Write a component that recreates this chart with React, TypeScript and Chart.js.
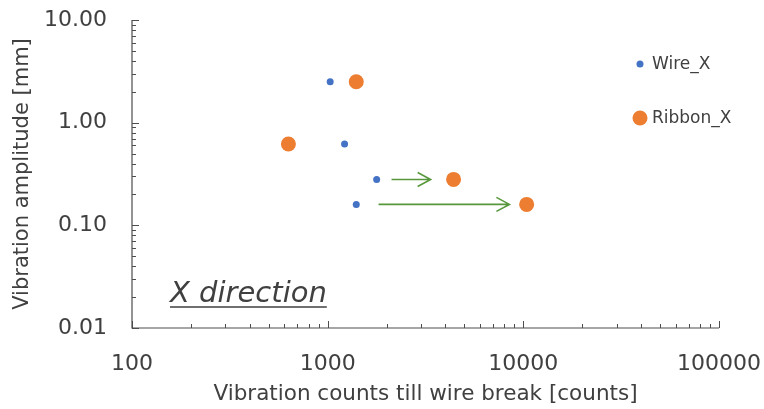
import React, { useEffect, useRef } from 'react';
import { Chart, registerables } from 'chart.js';
Chart.register(...registerables);

// ---- data ----
const wireCounts = [1030, 1220, 1780, 1400];
const wireAmplitude = [2.5, 0.62, 0.28, 0.16];
const ribbonCounts = [1400, 630, 4400, 10400];
const ribbonAmplitude = [2.5, 0.62, 0.28, 0.16];
const arrowFromCounts = [2120, 1820];
const arrowToCounts = [3360, 8490];
const arrowAmplitude = [0.28, 0.16];
const xDecades = [100, 1000, 10000, 100000];
const xTickLabels = ['100', '1000', '10000', '100000'];
const yDecades = [0.01, 0.1, 1, 10];
const yTickLabels = ['0.01', '0.10', '1.00', '10.00'];
const seriesNames = ['Wire_X', 'Ribbon_X'];
const annotationText = 'X direction';

const TEXT = '#404040';
const AXIS = '#4d4d4d';
const BLUE = '#4472C4';
const ORANGE = '#ED7D31';
const GREEN = '#58983C';
const FONT = "'DejaVu Sans', sans-serif";

const zeroPadding = (s: any) => {
  s.paddingTop = 0;
  s.paddingBottom = 0;
  s.paddingLeft = 0;
  s.paddingRight = 0;
};

const decorPlugin = {
  id: 'decor',
  afterDatasetsDraw(chart: any) {
    const ctx = chart.ctx;
    const xs = chart.scales.x;
    const ys = chart.scales.y;
    const area = chart.chartArea;
    ctx.save();
    // axis lines
    ctx.strokeStyle = AXIS;
    ctx.lineWidth = 1.2;
    ctx.beginPath();
    ctx.moveTo(area.left, area.top);
    ctx.lineTo(area.left, area.bottom);
    ctx.lineTo(area.right, area.bottom);
    ctx.stroke();
    // inward ticks
    ctx.lineWidth = 1;
    const lastX = xDecades[xDecades.length - 1];
    xDecades.forEach((d) => {
      for (let m = 1; m <= 9; m++) {
        const v = d * m;
        if (v > lastX) break;
        const px = Math.round(xs.getPixelForValue(v)) + 0.5;
        const len = m === 1 ? 7 : 4;
        ctx.beginPath();
        ctx.moveTo(px, area.bottom);
        ctx.lineTo(px, area.bottom - len);
        ctx.stroke();
      }
    });
    const lastY = yDecades[yDecades.length - 1];
    yDecades.forEach((d) => {
      for (let m = 1; m <= 9; m++) {
        const v = d * m;
        if (v > lastY * 1.0001) break;
        const py = Math.round(ys.getPixelForValue(v)) + 0.5;
        const len = m === 1 ? 7 : 4;
        ctx.beginPath();
        ctx.moveTo(area.left, py);
        ctx.lineTo(area.left + len, py);
        ctx.stroke();
      }
    });
    // arrows
    ctx.strokeStyle = GREEN;
    ctx.lineWidth = 1.6;
    arrowFromCounts.forEach((from, i) => {
      const x1 = xs.getPixelForValue(from);
      const x2 = xs.getPixelForValue(arrowToCounts[i]);
      const y = ys.getPixelForValue(arrowAmplitude[i]);
      ctx.beginPath();
      ctx.moveTo(x1, y);
      ctx.lineTo(x2, y);
      ctx.moveTo(x2 - 13, y - 7);
      ctx.lineTo(x2, y);
      ctx.lineTo(x2 - 13, y + 7);
      ctx.stroke();
    });
    // annotation text
    ctx.fillStyle = TEXT;
    ctx.font = `oblique 29px ${FONT}`;
    ctx.textBaseline = 'alphabetic';
    ctx.textAlign = 'left';
    const tx = area.left + 38;
    const ty = area.bottom - 26;
    ctx.fillText(annotationText, tx, ty);
    const w = ctx.measureText(annotationText).width;
    ctx.strokeStyle = TEXT;
    ctx.lineWidth = 1.5;
    ctx.beginPath();
    ctx.moveTo(tx, ty + 5);
    ctx.lineTo(tx + w, ty + 5);
    ctx.stroke();
    // legend
    const legendColors = [BLUE, ORANGE];
    const legendRadius = [3.5, 7.5];
    const lx = 640;
    const lys = [64, 118];
    ctx.font = `17px ${FONT}`;
    ctx.textBaseline = 'middle';
    seriesNames.forEach((name, i) => {
      ctx.fillStyle = legendColors[i];
      ctx.beginPath();
      ctx.arc(lx, lys[i], legendRadius[i], 0, Math.PI * 2);
      ctx.fill();
      ctx.fillStyle = TEXT;
      ctx.fillText(name, lx + 12, lys[i] + 1);
    });
    ctx.restore();
  },
};

export default function App() {
  const ref = useRef<HTMLCanvasElement | null>(null);
  useEffect(() => {
    document.body.style.margin = '0';
    const canvas = ref.current!;
    const chart = new Chart(canvas, {
      type: 'scatter',
      data: {
        datasets: [
          {
            label: seriesNames[0],
            data: wireCounts.map((x, i) => ({ x, y: wireAmplitude[i] })),
            backgroundColor: BLUE,
            borderColor: BLUE,
            pointRadius: 3.5,
            borderWidth: 0,
          },
          {
            label: seriesNames[1],
            data: ribbonCounts.map((x, i) => ({ x, y: ribbonAmplitude[i] })),
            backgroundColor: ORANGE,
            borderColor: ORANGE,
            pointRadius: 7.5,
            borderWidth: 0,
          },
        ],
      },
      options: {
        animation: false,
        responsive: false,
        maintainAspectRatio: false,
        layout: { padding: { left: 0, top: 20, right: 45, bottom: 0 } },
        plugins: {
          legend: { display: false },
          tooltip: { enabled: false },
        },
        scales: {
          x: {
            type: 'logarithmic',
            min: xDecades[0],
            max: xDecades[xDecades.length - 1],
            grid: { display: false },
            border: { display: false },
            afterBuildTicks: (s: any) => {
              s.ticks = xDecades.map((v) => ({ value: v }));
            },
            afterFit: (s: any) => {
              s.height = 81;
              zeroPadding(s);
            },
            ticks: {
              autoSkip: false,
              maxRotation: 0,
              padding: 15,
              color: TEXT,
              font: { family: FONT, size: 22 },
              callback: (v: any) => {
                const i = xDecades.indexOf(Number(v));
                return i >= 0 ? xTickLabels[i] : '';
              },
            },
            title: {
              display: true,
              text: 'Vibration counts till wire break [counts]',
              color: TEXT,
              font: { family: FONT, size: 21.5 },
              padding: { top: 0, bottom: 2 },
            },
          },
          y: {
            type: 'logarithmic',
            min: yDecades[0],
            max: yDecades[yDecades.length - 1],
            grid: { display: false },
            border: { display: false },
            afterBuildTicks: (s: any) => {
              s.ticks = yDecades.map((v) => ({ value: v }));
            },
            afterFit: (s: any) => {
              s.width = 132;
              zeroPadding(s);
            },
            ticks: {
              autoSkip: false,
              padding: 17,
              color: TEXT,
              font: { family: FONT, size: 22 },
              callback: (v: any) => {
                const i = yDecades.findIndex((d) => Math.abs(d - Number(v)) < d * 1e-6);
                return i >= 0 ? yTickLabels[i] : '';
              },
            },
            title: {
              display: true,
              text: 'Vibration amplitude [mm]',
              color: TEXT,
              font: { family: FONT, size: 21 },
              padding: { top: 10, bottom: 0 },
            },
          },
        },
      },
      plugins: [decorPlugin],
    } as any);
    return () => chart.destroy();
  }, []);
  return (
    <div style={{ position: 'absolute', left: 0, top: 0, width: 764, height: 409 }}>
      <canvas ref={ref} width={764} height={409} style={{ width: 764, height: 409 }} />
    </div>
  );
}
